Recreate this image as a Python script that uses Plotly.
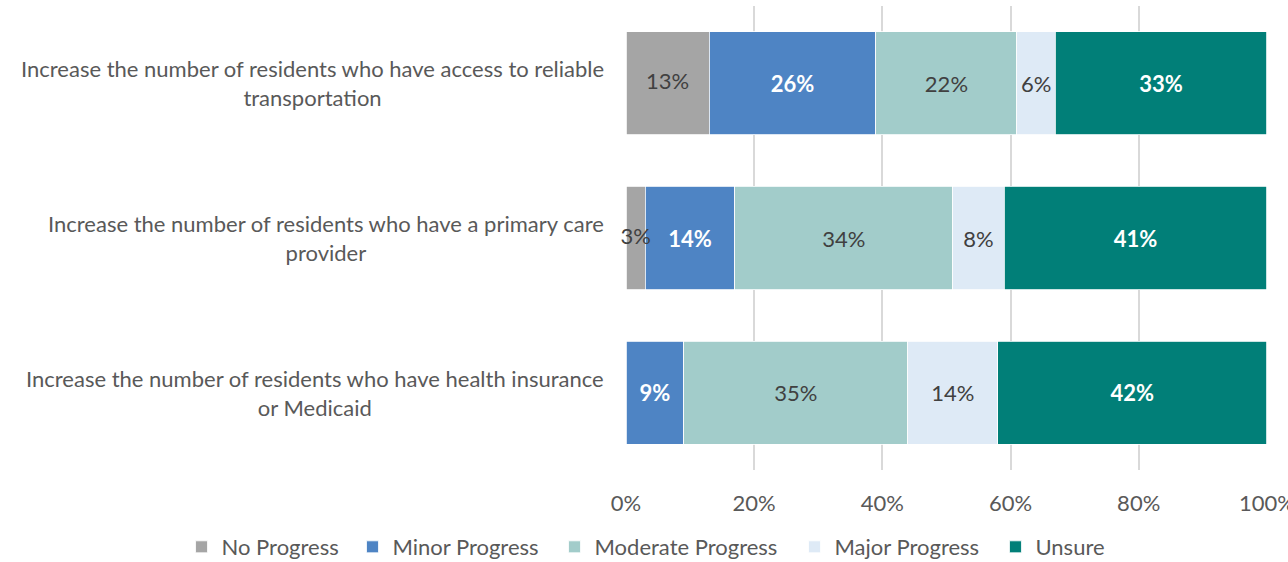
import plotly.graph_objects as go

categories = [
    "Increase the number of residents who have access to reliable<br>transportation",
    "Increase the number of residents who have a primary care<br>provider",
    "Increase the number of residents who have health insurance<br>or Medicaid",
]
series_names = ["No Progress", "Minor Progress", "Moderate Progress", "Major Progress", "Unsure"]
no_progress = [13, 3, 0]
minor_progress = [26, 14, 9]
moderate_progress = [22, 34, 35]
major_progress = [6, 8, 14]
unsure = [33, 41, 42]
tick_vals = [0, 20, 40, 60, 80, 100]
tick_text = ["0%", "20%", "40%", "60%", "80%", "100%"]

values = [no_progress, minor_progress, moderate_progress, major_progress, unsure]
colors = ["#A5A5A5", "#4E84C4", "#A2CCCA", "#DEEAF6", "#017F78"]
text_colors = ["#404040", "#FFFFFF", "#404040", "#404040", "#FFFFFF"]
weights = ["normal", "bold", "normal", "normal", "bold"]
legend_ids = ["legend", "legend2", "legend3", "legend4", "legend5"]
legend_x = [-0.6934, -0.4267, -0.1115, 0.2629, 0.5764]

FONT = "Lato"
FS = 22
fig = go.Figure()
for i, (name, vals, col, tc, w) in enumerate(zip(series_names, values, colors, text_colors, weights)):
    show_text = i != 0
    fig.add_trace(go.Bar(
        y=categories, x=vals, name=name, orientation="h",
        marker=dict(color=col, line=dict(color="#FFFFFF", width=0.8)),
        text=[f"{v}%" if (v > 0 and show_text) else "" for v in vals],
        textposition="inside", insidetextanchor="middle", textangle=0,
        textfont=dict(family=FONT, size=FS, color=tc, weight=w),
        constraintext="none",
        hoverinfo="skip",
        legend=legend_ids[i],
    ))

# No Progress labels drawn on top so the narrow 3% label is not covered
fig.add_trace(go.Scatter(
    y=categories, x=[v / 2 for v in no_progress], mode="text",
    text=[f"{v}%" if v > 0 else "" for v in no_progress],
    textposition="middle center",
    textfont=dict(family=FONT, size=FS, color=text_colors[0]),
    showlegend=False, hoverinfo="skip", cliponaxis=False,
))

for c in categories:
    fig.add_annotation(
        x=0, xref="paper", y=c, yref="y", text=c, showarrow=False,
        xanchor="right", yanchor="middle", align="center", xshift=-20,
        font=dict(family=FONT, size=FS, color="#595959"),
    )

legend_common = dict(
    orientation="h", xref="paper", yref="paper",
    xanchor="left", y=-0.166, yanchor="middle",
    font=dict(family=FONT, size=FS, color="#595959"),
    itemclick=False, itemwidth=30, bgcolor="rgba(0,0,0,0)",
)
legend_layout = {lid: dict(x=lx, **legend_common) for lid, lx in zip(legend_ids, legend_x)}

fig.update_layout(
    barmode="stack",
    bargap=0.333,
    width=1288, height=562,
    margin=dict(l=626, r=21, t=6, b=92, autoexpand=False),
    paper_bgcolor="white", plot_bgcolor="white",
    uniformtext=dict(minsize=FS, mode="show"),
    font=dict(family=FONT, color="#595959"),
    xaxis=dict(
        range=[0, 100.02], tickvals=tick_vals, ticktext=tick_text,
        showgrid=True, gridcolor="#D9D9D9", gridwidth=1.5,
        zeroline=False, showline=False,
        tickfont=dict(family=FONT, size=FS, color="#595959"),
        ticks="", ticklabelstandoff=18, automargin=False,
        ticklabeloverflow="allow",
    ),
    yaxis=dict(
        autorange="reversed", showticklabels=False, showgrid=False,
        zeroline=False, showline=False, ticks="", automargin=False,
    ),
    showlegend=True,
    **legend_layout,
)

fig.write_html("out.html", config={"displayModeBar": False},
               post_script="document.body.style.margin='0';")
